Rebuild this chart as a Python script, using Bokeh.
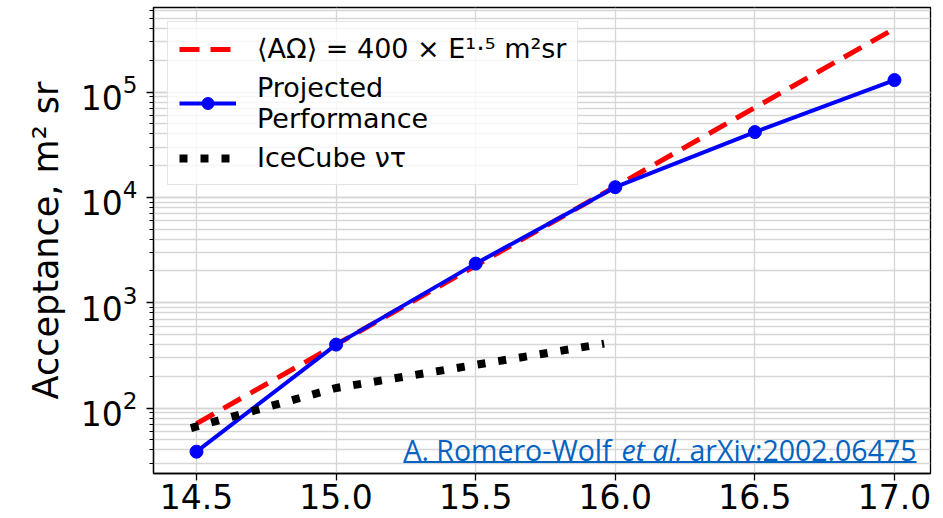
from bokeh.plotting import figure
from bokeh.models import Range1d, FixedTicker, PrintfTickFormatter, Legend, LegendItem, Label, BoxAnnotation
from bokeh.embed import file_html
from bokeh.resources import INLINE

# ---- data ----
energy = [14.5, 15.0, 15.5, 16.0, 16.5, 17.0]               # log10(E / eV)
projected = [38.5, 400, 2350, 12500, 41700, 130000]          # m^2 sr
fit_energy = [14.5, 17.0]
fit_accept = [71.1, 400000]                                   # 400 x E^1.5 (E in PeV)
icecube_energy = [14.48, 15.0, 15.5, 15.96]
icecube_accept = [64.5, 155, 257, 409]
x_ticks = [14.5, 15.0, 15.5, 16.0, 16.5, 17.0]

FONT = "DejaVu Sans"

p = figure(width=943, height=518, y_axis_type="log",
           x_range=Range1d(14.346, 17.129), y_range=Range1d(23.9, 635000),
           output_backend="svg", toolbar_location=None,
           min_border_left=153, min_border_right=13, min_border_top=7, min_border_bottom=45,
           background_fill_color="white", border_fill_color="white")

p.outline_line_color = "black"
p.outline_line_width = 1.3
p.outline_line_alpha = 1.0

# grids
p.xgrid.grid_line_color = "#d6d6d6"
p.xgrid.grid_line_width = 1.3
p.ygrid.grid_line_color = "#d6d6d6"
p.ygrid.grid_line_width = 1.3
p.ygrid.minor_grid_line_color = "#d6d6d6"
p.ygrid.minor_grid_line_width = 1.3

# axes
p.xaxis.ticker = FixedTicker(ticks=x_ticks)
p.xaxis.formatter = PrintfTickFormatter(format="%.1f")
for ax in (p.xaxis[0], p.yaxis[0]):
    ax.major_label_text_font = FONT
    ax.major_label_text_color = "black"
    ax.axis_line_color = "black"
    ax.axis_line_width = 1.3
    ax.major_tick_line_color = "black"
    ax.major_tick_line_width = 1.3
    ax.major_tick_in = 0
    ax.major_tick_out = 7
    ax.minor_tick_in = 0
    ax.minor_tick_out = 4
    ax.minor_tick_line_color = "black"
p.xaxis.major_label_text_font_size = "33px"
p.yaxis.major_label_text_font_size = "33px"
p.xaxis.minor_tick_line_color = None
p.xaxis.major_label_standoff = 3
p.yaxis.major_label_standoff = 9
p.yaxis.axis_label = "Acceptance, m² sr"
p.yaxis.axis_label_text_font = FONT
p.yaxis.axis_label_text_font_size = "35px"
p.yaxis.axis_label_text_font_style = "normal"
p.yaxis.axis_label_text_color = "black"
p.yaxis.axis_label_standoff = 12

# series
r_fit = p.line(fit_energy, fit_accept, line_color="#ff0000", line_width=5, line_dash="20 11")
r_proj = p.line(energy, projected, line_color="#0000ff", line_width=4)
r_proj_pts = p.scatter(energy, projected, size=13, fill_color="#0000ff", line_color="#0000ff")
r_ice = p.line(icecube_energy, icecube_accept, line_color="black", line_width=8, line_dash="8 13")

legend = Legend(items=[
    LegendItem(label="⟨AΩ⟩ = 400 × E¹·⁵ m²sr", renderers=[r_fit]),
    LegendItem(label="Projected\nPerformance", renderers=[r_proj, r_proj_pts]),
    LegendItem(label="IceCube ντ", renderers=[r_ice]),
], location="top_left")
legend.label_text_font = FONT
legend.label_text_font_size = "27px"
legend.label_text_color = "black"
legend.glyph_width = 57
legend.glyph_height = 30
legend.label_standoff = 21
legend.padding = 11
legend.spacing = 8
legend.margin = 14
legend.border_line_color = "#cccccc"
legend.border_line_width = 1.3
legend.background_fill_color = "white"
legend.background_fill_alpha = 0.8
p.add_layout(legend)

# citation annotation
CITE = "#0563C1"
cite_x = 15.241
cite_y = 35.0
cite_right = 17.079
common = dict(y=cite_y, y_offset=6, text_font="Open Sans", text_font_size="28.5px",
              text_color=CITE, text_baseline="alphabetic")
p.add_layout(Label(x=cite_x, text="A. Romero-Wolf", **common))
p.add_layout(Label(x=cite_x, x_offset=218, text="et al.", text_font_style="italic", **common))
p.add_layout(Label(x=cite_right, text="arXiv:2002.06475", text_align="right", **common))
p.add_layout(BoxAnnotation(left=cite_x, right=cite_right, bottom=30.05, top=31.4,
                           fill_color=CITE, fill_alpha=1.0, line_color=None))

open("out.html", "w").write(file_html(p, INLINE))
